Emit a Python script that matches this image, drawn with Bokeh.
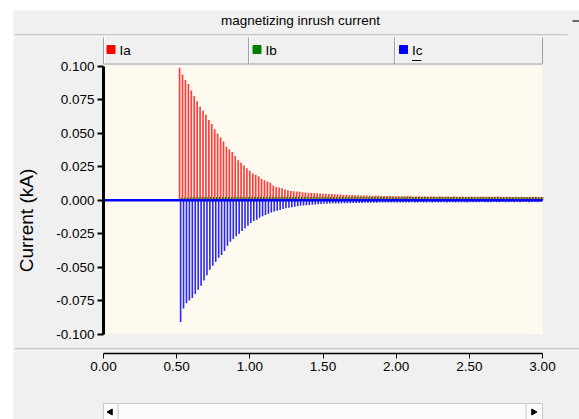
import numpy as np
from bokeh.plotting import figure
from bokeh.models import Range1d, LinearAxis, FixedTicker, PrintfTickFormatter
from bokeh.core.properties import value
from bokeh.embed import file_html
from bokeh.resources import INLINE

# ---------------- data ----------------
title_text = "magnetizing inrush current"
y_label = "Current (kA)"
series_names = ["Ia", "Ib", "Ic"]
series_colors = ["#ff0000", "#008000", "#0000ff"]
x_ticks = [0.0, 0.5, 1.0, 1.5, 2.0, 2.5, 3.0]
y_ticks = [-0.100, -0.075, -0.050, -0.025, 0.000, 0.025, 0.050, 0.075, 0.100]
t_start, t_end = 0.0, 3.0
period = 0.02          # one current pulse per 50 Hz cycle
ia_first = 0.520       # time of first pulse of each phase (s)
ib_first = 0.533
ic_first = 0.527

ia_peaks = [
    0.099, 0.094, 0.090, 0.087, 0.082, 0.078, 0.074, 0.070, 0.067, 0.064,
    0.060, 0.057, 0.053, 0.050, 0.047, 0.044, 0.040, 0.038, 0.036, 0.033,
    0.030, 0.028, 0.026, 0.024, 0.022, 0.020, 0.019, 0.018, 0.016, 0.015,
    0.014, 0.013, 0.011, 0.010, 0.0095, 0.0090, 0.0080, 0.0075, 0.0070, 0.0068,
    0.0066, 0.0064, 0.0060, 0.0058, 0.0056, 0.0055, 0.0054, 0.0052, 0.0050, 0.0049,
    0.0048, 0.0047, 0.0046, 0.0045, 0.0044, 0.0043, 0.0042, 0.0041, 0.0040, 0.0040,
    0.0038, 0.0037, 0.0036, 0.0036, 0.0035, 0.0034, 0.0034, 0.0033, 0.0033, 0.0032,
    0.0032, 0.0031, 0.0031, 0.0030, 0.0030, 0.0030, 0.0029, 0.0029, 0.0029, 0.0029,
    0.0028, 0.0028, 0.0029, 0.0028, 0.0028, 0.0027, 0.0028, 0.0028, 0.0027, 0.0028,
    0.0027, 0.0028, 0.0027, 0.0027, 0.0028, 0.0027, 0.0027, 0.0026, 0.0027, 0.0027,
    0.0026, 0.0027, 0.0027, 0.0026, 0.0027, 0.0026, 0.0026, 0.0027, 0.0026, 0.0026,
    0.0026, 0.0025, 0.0026, 0.0026, 0.0025, 0.0026, 0.0025, 0.0026, 0.0025, 0.0025,
    0.0025, 0.0026, 0.0025, 0.0025, 0.0025,
]
ib_peaks = [
    0.0018, 0.0020, 0.0021, 0.0022, 0.0022, 0.0023, 0.0023, 0.0024, 0.0024, 0.0024,
    0.0024, 0.0025, 0.0024, 0.0025, 0.0025, 0.0024, 0.0025, 0.0025, 0.0026, 0.0025,
    0.0025, 0.0026, 0.0025, 0.0025, 0.0026, 0.0026, 0.0025, 0.0026, 0.0026, 0.0025,
    0.0026, 0.0026, 0.0026, 0.0025, 0.0026, 0.0026, 0.0026, 0.0026, 0.0025, 0.0026,
    0.0026, 0.0026, 0.0026, 0.0026, 0.0025, 0.0026, 0.0026, 0.0026, 0.0026, 0.0026,
    0.0026, 0.0025, 0.0026, 0.0026, 0.0026, 0.0026, 0.0026, 0.0025, 0.0026, 0.0026,
    0.0026, 0.0026, 0.0026, 0.0026, 0.0025, 0.0026, 0.0026, 0.0026, 0.0026, 0.0026,
    0.0025, 0.0026, 0.0026, 0.0026, 0.0026, 0.0025, 0.0026, 0.0026, 0.0026, 0.0025,
    0.0026, 0.0026, 0.0025, 0.0026, 0.0026, 0.0025, 0.0026, 0.0025, 0.0026, 0.0026,
    0.0025, 0.0026, 0.0025, 0.0026, 0.0025, 0.0025, 0.0026, 0.0025, 0.0025, 0.0026,
    0.0025, 0.0025, 0.0025, 0.0026, 0.0025, 0.0025, 0.0025, 0.0025, 0.0026, 0.0025,
    0.0025, 0.0025, 0.0025, 0.0025, 0.0025, 0.0024, 0.0025, 0.0025, 0.0025, 0.0024,
    0.0025, 0.0025, 0.0024, 0.0025,
]
ic_peaks = [
    -0.091, -0.081, -0.077, -0.075, -0.073, -0.070, -0.067, -0.064, -0.060, -0.056,
    -0.052, -0.049, -0.046, -0.043, -0.041, -0.038, -0.034, -0.031, -0.029, -0.027,
    -0.025, -0.023, -0.021, -0.019, -0.017, -0.0155, -0.0145, -0.013, -0.012, -0.011,
    -0.010, -0.0092, -0.0085, -0.0078, -0.0072, -0.0066, -0.0060, -0.0056, -0.0052, -0.0048,
    -0.0044, -0.0041, -0.0039, -0.0037, -0.0035, -0.0033, -0.0031, -0.0029, -0.0028, -0.0027,
    -0.0026, -0.0025, -0.0025, -0.0024, -0.0024, -0.0023, -0.0023, -0.0022, -0.0022, -0.0021,
    -0.0021, -0.0020, -0.0020, -0.0019, -0.0019, -0.0018, -0.0018, -0.0018, -0.0017, -0.0017,
    -0.0017, -0.0016, -0.0017, -0.0016, -0.0016, -0.0017, -0.0016, -0.0016, -0.0016, -0.0015,
    -0.0016, -0.0016, -0.0015, -0.0016, -0.0016, -0.0015, -0.0016, -0.0015, -0.0016, -0.0015,
    -0.0015, -0.0016, -0.0015, -0.0015, -0.0016, -0.0015, -0.0015, -0.0015, -0.0016, -0.0015,
    -0.0015, -0.0015, -0.0015, -0.0014, -0.0015, -0.0015, -0.0015, -0.0014, -0.0015, -0.0015,
    -0.0014, -0.0015, -0.0015, -0.0014, -0.0015, -0.0014, -0.0015, -0.0014, -0.0014, -0.0015,
    -0.0014, -0.0014, -0.0015, -0.0014,
]

# ---------------- layout helpers (page pixels -> data) ----------------
PX0, PX_PER = 103.0, 439.0 / 3.0      # x = 0 at page px 103, x = 3 at px 542
PY0, PY_PER = 66.0, 267.5 / 0.2       # y = 0.1 at page py 66, y = -0.1 at py 333.5


def X(px):
    return (px - PX0) / PX_PER


def Y(py):
    return 0.1 - (py - PY0) / PY_PER


SANS = value("Liberation Sans")
FS = "13.5px"
PANEL = "#f0f0f0"
EDGE = "#a0a0a0"

p = figure(width=579, height=419, output_backend="svg", toolbar_location=None,
           x_axis_location=None, y_axis_location=None,
           x_range=Range1d(X(13), X(579)), y_range=Range1d(Y(419), Y(10)),
           min_border_left=13, min_border_right=0, min_border_top=10, min_border_bottom=0)
p.border_fill_color = "white"
p.background_fill_color = PANEL
p.outline_line_color = None
p.grid.visible = False

# ---- title bar ----
p.segment(x0=[X(14)], y0=[Y(34.5)], x1=[X(567)], y1=[Y(34.5)], line_color=EDGE, line_width=1)
p.segment(x0=[X(14)], y0=[Y(35.5)], x1=[X(567)], y1=[Y(35.5)], line_color="white", line_width=1)
p.text(x=[X(300)], y=[Y(20)], text=[title_text], text_font=SANS, text_font_size=FS,
       text_color="#000000", text_align="center", text_baseline="middle")
p.segment(x0=[X(572)], y0=[Y(20.5)], x1=[X(579)], y1=[Y(20.5)], line_color="#404040", line_width=1.5)

# ---- legend row ----
cell_edges = [103, 248, 394, 542]
p.segment(x0=[X(e) for e in cell_edges], y0=[Y(37)] * 4, x1=[X(e) for e in cell_edges],
          y1=[Y(63.5)] * 4, line_color=EDGE, line_width=1)
p.segment(x0=[X(e + 1) for e in cell_edges[:3]], y0=[Y(37)] * 3, x1=[X(e + 1) for e in cell_edges[:3]],
          y1=[Y(63)] * 3, line_color="white", line_width=1)
p.segment(x0=[X(103)], y0=[Y(63.5)], x1=[X(542)], y1=[Y(63.5)], line_color=EDGE, line_width=1)
sq_px = [110.5, 256.5, 403]
lab_px = [119, 265, 411.5]
p.scatter(x=[X(v) for v in sq_px], y=[Y(49)] * 3, marker="square", size=8,
          fill_color=series_colors, line_color=series_colors)
p.text(x=[X(v) for v in lab_px], y=[Y(50)] * 3, text=series_names, text_font=SANS,
       text_font_size=FS, text_color="#000000", text_align="left", text_baseline="middle")
p.segment(x0=[X(411.5)], y0=[Y(60)], x1=[X(421)], y1=[Y(60)], line_color="#000000", line_width=1.2)

# ---- plot area ----
p.quad(left=[X(103)], right=[X(542)], top=[Y(65)], bottom=[Y(333.5)],
       fill_color="#fffaf0", line_color=None)

ia_t = ia_first + period * np.arange(len(ia_peaks))
ib_t = ib_first + period * np.arange(len(ib_peaks))
ic_t = ic_first + period * np.arange(len(ic_peaks))

p.line(x=[t_start, t_end], y=[0, 0], line_color=series_colors[0], line_width=1.5)
p.line(x=[t_start, t_end], y=[0, 0], line_color=series_colors[1], line_width=1.5)
p.segment(x0=ia_t, y0=np.zeros(len(ia_t)), x1=ia_t, y1=ia_peaks,
          line_color=series_colors[0], line_width=1.7, line_alpha=0.75)
p.segment(x0=ib_t, y0=np.zeros(len(ib_t)), x1=ib_t, y1=ib_peaks,
          line_color=series_colors[1], line_width=1.3)
p.segment(x0=ic_t, y0=np.zeros(len(ic_t)), x1=ic_t, y1=ic_peaks,
          line_color=series_colors[2], line_width=1.6, line_alpha=0.85)
p.line(x=[t_start, t_end], y=[0, 0], line_color=series_colors[2], line_width=2.5)

# ---- y axis ----
yaxis = LinearAxis(fixed_location=0.0, bounds=(-0.1, 0.1),
                   ticker=FixedTicker(ticks=y_ticks, minor_ticks=[]),
                   formatter=PrintfTickFormatter(format="%.3f"))
yaxis.axis_line_width = 3
yaxis.axis_line_color = "#000000"
yaxis.major_tick_line_width = 2
yaxis.major_tick_line_color = "#000000"
yaxis.major_tick_out = 6
yaxis.major_tick_in = 0
yaxis.minor_tick_out = 0
yaxis.minor_tick_in = 0
yaxis.major_label_standoff = 3
yaxis.major_label_text_font = "Liberation Sans"
yaxis.major_label_text_font_size = FS
yaxis.major_label_text_color = "#000000"
p.add_layout(yaxis, "left")

p.text(x=[X(26)], y=[Y(220)], text=[y_label], angle=np.pi / 2, text_font=SANS,
       text_font_size="19px", text_color="#000000", text_align="center", text_baseline="middle")

# ---- separator and x axis ----
p.segment(x0=[X(14)], y0=[Y(348.5)], x1=[X(579)], y1=[Y(348.5)], line_color=EDGE, line_width=1)
p.segment(x0=[X(14)], y0=[Y(349.5)], x1=[X(579)], y1=[Y(349.5)], line_color="white", line_width=1)

xaxis = LinearAxis(fixed_location=Y(352.5), bounds=(t_start, t_end),
                   ticker=FixedTicker(ticks=x_ticks, minor_ticks=[]),
                   formatter=PrintfTickFormatter(format="%.2f"))
xaxis.axis_line_width = 1.5
xaxis.axis_line_color = "#000000"
xaxis.major_tick_line_width = 1
xaxis.major_tick_line_color = "#000000"
xaxis.major_tick_out = 5
xaxis.major_tick_in = 0
xaxis.minor_tick_out = 0
xaxis.minor_tick_in = 0
xaxis.major_label_standoff = 4
xaxis.major_label_text_font = "Liberation Sans"
xaxis.major_label_text_font_size = FS
xaxis.major_label_text_color = "#000000"
p.add_layout(xaxis, "below")

# ---- scrollbar ----
p.quad(left=[X(103)], right=[X(542)], top=[Y(403)], bottom=[Y(419)],
       fill_color="#fbfbfb", line_color="#c8c8c8", line_width=1)
p.segment(x0=[X(117.5), X(525.5)], y0=[Y(403)] * 2, x1=[X(117.5), X(525.5)], y1=[Y(419)] * 2,
          line_color="#c8c8c8", line_width=1)
p.scatter(x=[X(110), X(533)], y=[Y(411.5)] * 2, marker="triangle", size=6,
          angle=[np.pi / 2, -np.pi / 2], fill_color="#000000", line_color="#000000")

open("out.html", "w").write(file_html(p, INLINE))
